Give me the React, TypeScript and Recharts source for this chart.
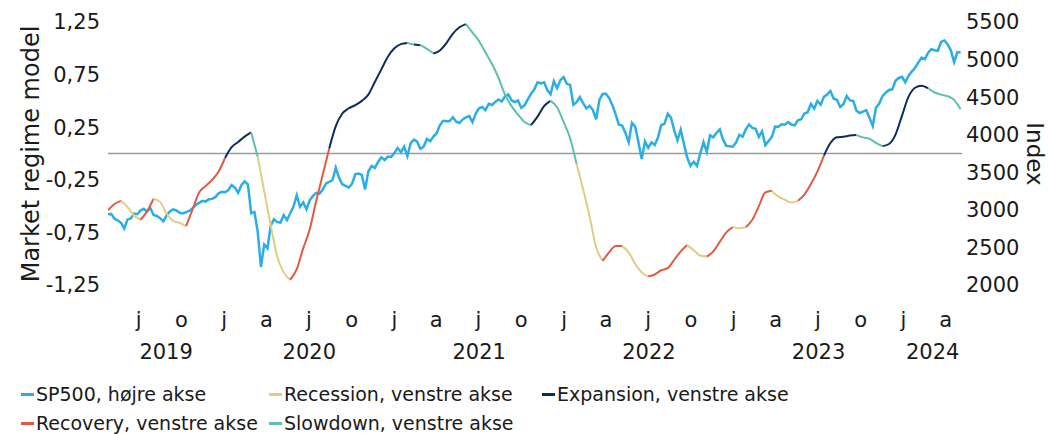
import React from 'react';
import { LineChart, Line, XAxis, YAxis, ReferenceLine } from 'recharts';

// weekly S&P 500 closes, first week ending 26 Apr 2019
const sp500 = [
  // 2019
  2940, 2946, 2881, 2860, 2826, 2752, 2873, 2887, 2950, 2942,
  2990, 3014, 2977, 3026, 2932, 2919, 2889, 2847, 2926, 2979,
  3007, 2992, 2962, 2952, 2970, 2986, 3023, 3067, 3093, 3120,
  3110, 3141, 3146, 3169, 3221, 3240,
  // 2020
  3235, 3265, 3330, 3295, 3226, 3328, 3380, 3338, 2954, 2972,
  2711, 2240, 2541, 2489, 2790, 2875, 2837, 2831, 2930, 2864,
  2955, 3044, 3194, 3041, 3098, 3009, 3130, 3185, 3225, 3216,
  3271, 3351, 3373, 3397, 3560, 3427, 3341, 3319, 3298, 3348,
  3477, 3484, 3465, 3270, 3510, 3585, 3558, 3638, 3699, 3663,
  3709, 3703, 3756,
  // 2021
  3825, 3768, 3841, 3714, 3887, 3934, 3907, 3811, 3842, 3943,
  3913, 3975, 4020, 4129, 4185, 4180, 4181, 4233, 4174, 4156,
  4204, 4230, 4247, 4166, 4281, 4352, 4370, 4327, 4412, 4395,
  4437, 4468, 4442, 4509, 4535, 4459, 4433, 4455, 4357, 4391,
  4471, 4545, 4605, 4697, 4683, 4698, 4595, 4538, 4712, 4620,
  4726, 4766,
  // 2022
  4677, 4663, 4398, 4432, 4501, 4419, 4349, 4385, 4329, 4204,
  4463, 4543, 4546, 4488, 4393, 4272, 4132, 4123, 4024, 3901,
  4158, 4109, 3901, 3675, 3912, 3825, 3899, 3863, 3962, 4130,
  4145, 4280, 4228, 4058, 3924, 4067, 3873, 3693, 3586, 3640,
  3583, 3753, 3901, 3771, 3993, 3965, 4026, 4072, 3934, 3852,
  3845, 3840,
  // 2023
  3895, 3999, 3973, 4071, 4136, 4090, 4079, 3970, 4046, 3862,
  3917, 3971, 4109, 4105, 4138, 4133, 4169, 4136, 4124, 4192,
  4205, 4282, 4299, 4410, 4348, 4450, 4399, 4505, 4536, 4582,
  4478, 4464, 4370, 4406, 4516, 4457, 4450, 4320, 4288, 4308,
  4327, 4224, 4117, 4358, 4415, 4514, 4559, 4595, 4604, 4719,
  4755, 4770,
  // 2024
  4697, 4784, 4840, 4891, 4959, 5027, 5006, 5089, 5137, 5124,
  5117, 5234, 5254, 5204, 5123, 4967, 5100, 5095,
];

// regime model, every second week from 26 Apr 2019
const regimeModel = [
  -0.54, -0.48, -0.45, -0.51, -0.59, -0.63, -0.55, -0.43, -0.46, -0.57,
  -0.64, -0.66, -0.69, -0.53, -0.37, -0.31, -0.25, -0.17, -0.04, 0.06,
  0.11, 0.16, 0.2, -0.03, -0.36, -0.68, -0.98, -1.13, -1.2, -1.1,
  -0.9, -0.72, -0.45, -0.2, 0.05, 0.26, 0.38, 0.43, 0.46, 0.5,
  0.56, 0.68, 0.8, 0.92, 1.0, 1.04, 1.05, 1.035, 1.03, 0.995,
  0.95, 0.98, 1.05, 1.14, 1.2, 1.23, 1.15, 1.07, 0.96, 0.85,
  0.72, 0.56, 0.45, 0.37, 0.3, 0.27, 0.35, 0.45, 0.5, 0.44,
  0.3, 0.145, -0.1, -0.34, -0.6, -0.89, -1.02, -0.94, -0.88, -0.88,
  -0.94, -1.05, -1.13, -1.17, -1.15, -1.11, -1.09, -1.01, -0.93, -0.87,
  -0.92, -0.97, -0.98, -0.93, -0.84, -0.75, -0.7, -0.71, -0.7, -0.63,
  -0.5, -0.37, -0.355, -0.41, -0.44, -0.465, -0.45, -0.39, -0.29, -0.17,
  -0.02, 0.1, 0.155, 0.16, 0.17, 0.175, 0.153, 0.14, 0.1, 0.07,
  0.09, 0.18, 0.36, 0.54, 0.625, 0.645, 0.62, 0.58, 0.56, 0.545,
  0.51, 0.42,
];

// where each phase starts (index in regimeModel) and which phase it is
const phaseStart = [0, 2, 5, 7, 12, 18, 22, 23, 28, 34, 46, 47, 48, 50, 55, 65, 68, 72, 76, 79, 83, 89, 92, 96, 98, 102, 106, 110, 115, 119, 126];
const phaseName = [
  'Recovery', 'Recession', 'Recovery', 'Recession', 'Recovery', 'Expansion', 'Slowdown', 'Recession',
  'Recovery', 'Expansion', 'Slowdown', 'Expansion', 'Slowdown', 'Expansion', 'Slowdown', 'Expansion',
  'Slowdown', 'Recession', 'Recovery', 'Recession', 'Recovery', 'Recession', 'Recovery', 'Recession',
  'Recovery', 'Recession', 'Recovery', 'Expansion', 'Slowdown', 'Expansion', 'Slowdown',
];

const quarterTicks = [
  '2019-07', '2019-10', '2020-01', '2020-04', '2020-07', '2020-10', '2021-01', '2021-04',
  '2021-07', '2021-10', '2022-01', '2022-04', '2022-07', '2022-10', '2023-01', '2023-04',
  '2023-07', '2023-10', '2024-01', '2024-04',
];
const monthInitials = ['j', 'f', 'm', 'a', 'm', 'j', 'j', 'a', 's', 'o', 'n', 'd'];
const years = [2019, 2020, 2021, 2022, 2023, 2024];
const leftTicks = [-1.25, -0.75, -0.25, 0.25, 0.75, 1.25];
const rightTicks = [2000, 2500, 3000, 3500, 4000, 4500, 5000, 5500];

const legendRows = [
  ['SP500, højre akse', 'SP500'],
  ['Recession, venstre akse', 'Recession'],
  ['Expansion, venstre akse', 'Expansion'],
  ['Recovery, venstre akse', 'Recovery'],
  ['Slowdown, venstre akse', 'Slowdown'],
];

const COLORS: Record<string, string> = {
  SP500: '#2BAEE4',
  Recession: '#E1CD82',
  Expansion: '#0C2C5C',
  Recovery: '#DF5B45',
  Slowdown: '#5DC0AF',
};

const DAY = 86400000;
const START = Date.UTC(2019, 3, 26);
const END = Date.UTC(2024, 4, 6);
const TOTAL = (END - START) / DAY;
const dayOf = (t: number) => (t - START) / DAY;

const tickDays = quarterTicks.map((q) => dayOf(Date.UTC(+q.slice(0, 4), +q.slice(5) - 1, 1)));
const monthLabel: Record<number, string> = {};
quarterTicks.forEach((q, i) => (monthLabel[tickDays[i]] = monthInitials[+q.slice(5) - 1]));

const yearDays = years.map((y) => {
  const a = Math.max(0, dayOf(Date.UTC(y, 0, 1)));
  const b = Math.min(TOTAL, dayOf(Date.UTC(y + 1, 0, 1)));
  return (a + b) / 2;
});
const yearLabel: Record<number, string> = {};
years.forEach((y, i) => (yearLabel[yearDays[i]] = String(y)));

const segEnd = (i: number) => (i + 1 < phaseStart.length ? phaseStart[i + 1] : regimeModel.length - 1);

const data = sp500.map((v, w) => {
  const row: Record<string, number> = { x: w * 7, sp: v };
  if (w % 2 === 0) {
    const k = w / 2;
    phaseStart.forEach((s, i) => {
      if (k >= s && k <= segEnd(i) && k < regimeModel.length) row['r' + i] = regimeModel[k];
    });
  }
  return row;
});

const FONT = '"DejaVu Sans", sans-serif';
const INK = '#1a1a1a';
const tickStyle = { fontSize: 21, fill: INK, fontFamily: FONT };

const fmtLeft = (v: number) => v.toFixed(2).replace('.', ',');

const legendPos = [
  { left: 21, top: 383 },
  { left: 269, top: 383 },
  { left: 542, top: 383 },
  { left: 21, top: 412 },
  { left: 269, top: 412 },
];

export default function App() {
  return (
    <div style={{ position: 'absolute', left: 0, top: 0, width: 1049, height: 434, background: '#fff', fontFamily: FONT, color: INK }}>
      <LineChart width={1049} height={380} data={data} margin={{ top: 22, right: 0, left: 0, bottom: 0 }}>
        <XAxis
          xAxisId="m"
          dataKey="x"
          type="number"
          domain={[0, TOTAL]}
          allowDataOverflow
          ticks={tickDays}
          interval={0}
          tickFormatter={(v: number) => monthLabel[v] ?? ''}
          tick={tickStyle}
          tickLine={false}
          axisLine={false}
          tickSize={0}
          tickMargin={27}
          height={30}
        />
        <XAxis
          xAxisId="y"
          dataKey="x"
          type="number"
          domain={[0, TOTAL]}
          allowDataOverflow
          ticks={yearDays}
          interval={0}
          tickFormatter={(v: number) => yearLabel[v] ?? ''}
          tick={tickStyle}
          tickLine={false}
          axisLine={false}
          tickSize={0}
          tickMargin={29}
          height={65}
        />
        <YAxis
          yAxisId="left"
          orientation="left"
          width={108}
          domain={[-1.25, 1.25]}
          ticks={leftTicks}
          interval={0}
          tickFormatter={fmtLeft}
          tick={tickStyle}
          tickLine={false}
          axisLine={false}
          tickSize={6}
          tickMargin={2}
        />
        <YAxis
          yAxisId="right"
          orientation="right"
          width={87}
          domain={[2000, 5500]}
          ticks={rightTicks}
          interval={0}
          tick={tickStyle}
          tickLine={false}
          axisLine={false}
          tickSize={4}
          tickMargin={0}
        />
        <ReferenceLine xAxisId="m" yAxisId="left" y={0} stroke="#9b9b9b" strokeWidth={1.5} />
        <Line
          xAxisId="y"
          yAxisId="right"
          dataKey="sp"
          stroke="none"
          dot={false}
          activeDot={false}
          isAnimationActive={false}
        />
        <Line
          xAxisId="m"
          yAxisId="right"
          dataKey="sp"
          type="linear"
          stroke={COLORS.SP500}
          strokeWidth={2.5}
          dot={false}
          activeDot={false}
          isAnimationActive={false}
        />
        {phaseName.map((p, i) => (
          <Line
            key={'r' + i}
            xAxisId="m"
            yAxisId="left"
            dataKey={'r' + i}
            type="monotone"
            connectNulls
            stroke={COLORS[p]}
            strokeWidth={2}
            dot={false}
            activeDot={false}
            isAnimationActive={false}
          />
        ))}
      </LineChart>

      <div
        style={{
          position: 'absolute', left: 31, top: 153.5, fontSize: 24, lineHeight: '24px', whiteSpace: 'nowrap',
          transform: 'translate(-50%, -50%) rotate(-90deg)',
        }}
      >
        Market regime model
      </div>
      <div
        style={{
          position: 'absolute', left: 1035, top: 153.5, fontSize: 23, lineHeight: '24px', whiteSpace: 'nowrap',
          transform: 'translate(-50%, -50%) rotate(90deg)',
        }}
      >
        Index
      </div>

      {legendRows.map(([label, key], i) => (
        <div
          key={key}
          style={{
            position: 'absolute', left: legendPos[i].left, top: legendPos[i].top, height: 22,
            lineHeight: '22px', fontSize: 19, whiteSpace: 'nowrap', display: 'flex', alignItems: 'center',
          }}
        >
          <span style={{ display: 'inline-block', width: 13, height: 3, background: COLORS[key], marginRight: 2 }} />
          <span>{label}</span>
        </div>
      ))}
    </div>
  );
}
